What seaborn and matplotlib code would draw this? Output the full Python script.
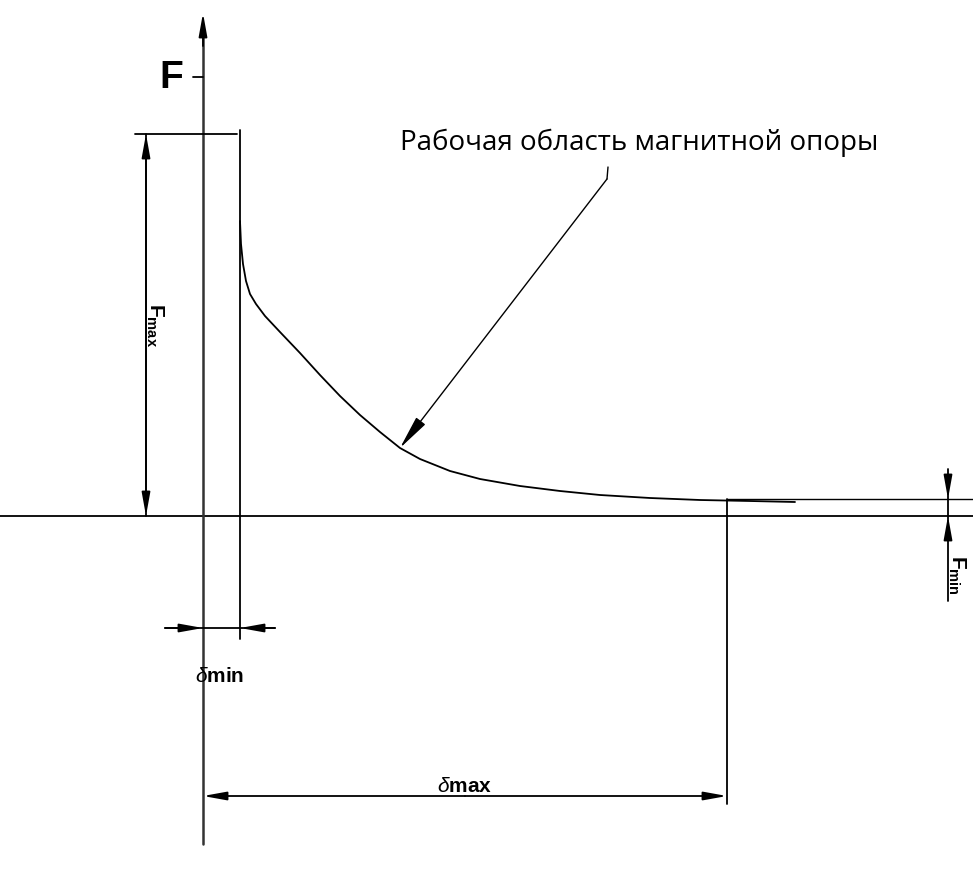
import numpy as np
import pandas as pd
import matplotlib
matplotlib.use("Agg")
import matplotlib.pyplot as plt
import seaborn as sns

# Force vs gap curve of the magnetic support (gap from F axis, force above gap axis)
gap = [37, 38, 40, 43, 47, 53, 62, 77, 97, 117, 137, 157, 177, 197,
       217, 247, 277, 317, 357, 397, 447, 497, 547, 592]
force = [295, 272, 252, 235, 222, 212, 200, 184, 163, 141, 120, 101, 84, 68,
         57, 45, 37, 30, 25, 21, 18, 16, 15, 14]

# Dimension values
delta_min = 37
delta_max = 524
f_max = 382
f_min = 17

label_text = "Рабочая область магнитной опоры"

sns.set_style("white")
plt.rcParams['text.color'] = 'black'
plt.rcParams['mathtext.fontset'] = 'custom'
plt.rcParams['mathtext.bf'] = 'Liberation Sans:bold'
plt.rcParams['mathtext.rm'] = 'Liberation Sans'
plt.rcParams['mathtext.it'] = 'Liberation Sans:italic'

fig = plt.figure(figsize=(9.73, 8.7), dpi=100)
ax = fig.add_axes([0, 0, 1, 1])
ax.set_xlim(-203, 770)
ax.set_ylim(-353, 517)
ax.axis("off")

lw = 1.3
k = "black"

def dim_arrow(p0, p1, style="-|>"):
    ax.annotate("", xy=p1, xytext=p0,
                arrowprops=dict(arrowstyle=style + ",head_length=1.0,head_width=0.18",
                                color=k, lw=lw, mutation_scale=14,
                                shrinkA=0, shrinkB=0))

# axes
ax.plot([-203, 770], [0, 0], color=k, lw=lw)
ax.plot([0, 0], [-328, 480], color="#333333", lw=1.8)
dim_arrow((0, 470), (0, 503))
ax.plot([-10, 0], [439, 439], color=k, lw=lw)
ax.text(-32, 439, "F", fontsize=28, fontweight="bold", family="Liberation Sans",
        ha="center", va="center")

# curve
df = pd.DataFrame({"gap": gap, "force": force})
sns.lineplot(data=df, x="gap", y="force", ax=ax, color=k, lw=lw, sort=False)

# Fmax dimension
ax.plot([-68, 34], [f_max, f_max], color=k, lw=lw)
dim_arrow((-57, f_max / 2), (-57, f_max))
dim_arrow((-57, f_max / 2), (-57, 0))
ax.plot([-57, -57], [0, f_max], color=k, lw=lw)
ax.text(-48, 192, r"$\mathbf{F_{max}}$", fontsize=15, rotation=-90,
        ha="center", va="center")

# delta min dimension
ax.plot([delta_min, delta_min], [-123, f_max + 4], color=k, lw=lw)
ax.plot([-38, 72], [-112, -112], color=k, lw=lw)
dim_arrow((-38, -112), (0, -112))
dim_arrow((72, -112), (delta_min, -112))
ax.text(17, -159, r"$\it{\delta}$" + r"$\mathbf{min}$", fontsize=15,
        ha="center", va="center")

# delta max dimension
ax.plot([delta_max, delta_max], [f_min, -288], color=k, lw=lw)
ax.plot([delta_max, 770], [f_min, f_min], color=k, lw=1.0)
dim_arrow((delta_max / 2, -280), (0, -280))
dim_arrow((delta_max / 2, -280), (delta_max, -280))
ax.text(262, -269, r"$\it{\delta}$" + r"$\mathbf{max}$", fontsize=15,
        ha="center", va="center")

# Fmin dimension
ax.plot([745, 745], [47, -85], color=k, lw=lw)
dim_arrow((745, 40), (745, f_min))
dim_arrow((745, -22), (745, 0))
ax.text(754, -58, r"$\mathbf{F_{min}}$", fontsize=15, rotation=-90,
        ha="center", va="center")

# leader with label
ax.plot([405, 404], [349, 337], color=k, lw=1.0)
ax.annotate("", xy=(gap[13], force[13]), xytext=(404, 337),
            arrowprops=dict(arrowstyle="-|>,head_length=1.5,head_width=0.25",
                            color=k, lw=1.0, mutation_scale=14,
                            shrinkA=0, shrinkB=0))
ax.text(436, 374, label_text, fontsize=20, family="Open Sans",
        ha="center", va="center")

fig.savefig("out.png", dpi=100)
